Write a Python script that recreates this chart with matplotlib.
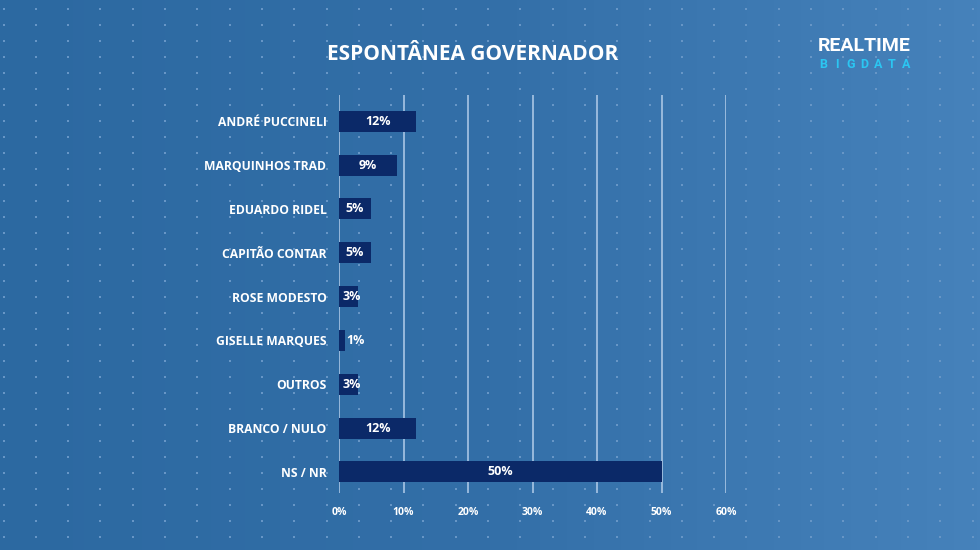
import matplotlib
matplotlib.use("Agg")
import matplotlib.pyplot as plt
import numpy as np
from matplotlib.colors import LinearSegmentedColormap

categories = ["ANDRÉ PUCCINELI", "MARQUINHOS TRAD", "EDUARDO RIDEL", "CAPITÃO CONTAR",
              "ROSE MODESTO", "GISELLE MARQUES", "OUTROS", "BRANCO / NULO", "NS / NR"]
values = [12, 9, 5, 5, 3, 1, 3, 12, 50]
xticks = [0, 10, 20, 30, 40, 50, 60]
xtick_labels = ["0%", "10%", "20%", "30%", "40%", "50%", "60%"]
title = "ESPONTÂNEA GOVERNADOR"

FONT = ["Open Sans", "DejaVu Sans"]
W, H = 980, 550
fig = plt.figure(figsize=(W / 100, H / 100), dpi=100)

# background gradient
bg = fig.add_axes([0, 0, 1, 1], zorder=0)
cmap = LinearSegmentedColormap.from_list("bg", ["#2c69a1", "#336fa8", "#4682bb"])
grad = np.linspace(0, 1, 256).reshape(1, -1)
bg.imshow(grad, aspect="auto", cmap=cmap, extent=[0, W, H, 0])
# decorative dot pattern
dx = np.arange(3.5, W, 32.3)
dy = np.arange(9, H, 16)
DX, DY = np.meshgrid(dx, dy)
bg.scatter(DX.ravel(), DY.ravel(), s=2.0, marker="s", color="#6796c6", linewidths=0)
bg.set_xlim(0, W)
bg.set_ylim(H, 0)
bg.axis("off")

# main axes
ax = fig.add_axes([339 / W, 1 - 493 / H, (726 - 339) / W, (493 - 95) / H], zorder=1)
ax.patch.set_alpha(0)
y = np.arange(len(categories))
ax.barh(y, values, height=0.48, color="#0b2968", zorder=3)
ax.set_xlim(0, 60)
ax.set_ylim(8.48, -0.6)
for xv in xticks:
    ax.axvline(xv, color="#b3cdea", lw=1.1, zorder=2)
for s in ax.spines.values():
    s.set_visible(False)
ax.tick_params(length=0)
ax.set_xticks(xticks)
ax.set_xticklabels(xtick_labels, color="white", fontsize=7.5, fontweight="bold", family=FONT)
ax.tick_params(axis="x", pad=10)
ax.set_yticks(y)
ax.set_yticklabels(categories, color="white", fontsize=8.7, fontweight="bold", family=FONT)
ax.tick_params(axis="y", pad=9)

for yi, v in zip(y, values):
    if v >= 2:
        ax.text(max(v / 2, 1.9), yi, f"{v}%", ha="center", va="center", color="white",
                fontsize=9, fontweight="bold", family=FONT, zorder=4)
    else:
        ax.text(v + 0.2, yi, f"{v}%", ha="left", va="center", color="white",
                fontsize=9, fontweight="bold", family=FONT, zorder=4)

fig.text(473 / W, 1 - 55 / H, title, ha="center", va="center", color="white",
         fontsize=15, fontweight="bold", family=FONT)

# logo
fig.text(864 / W, 1 - 46 / H, "REALTIME", ha="center", va="center", color="white",
         fontsize=14, fontweight="bold", family=["Roboto", "DejaVu Sans"])
for i, ch in enumerate("BIGDATA"):
    fig.text((823 + i * 13.8) / W, 1 - 64 / H, ch, ha="center", va="center", color="#2bc6f2",
             fontsize=9, fontweight="bold", family=["Roboto", "DejaVu Sans"])

fig.savefig("out.png", dpi=100)
